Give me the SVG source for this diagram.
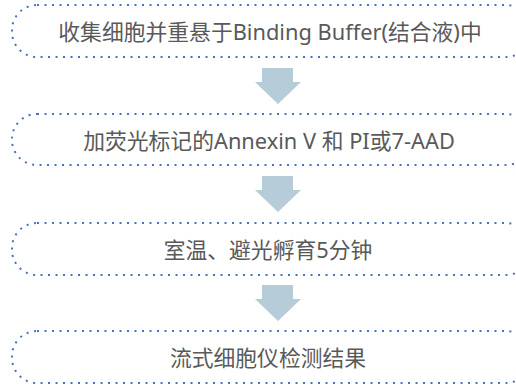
<svg xmlns="http://www.w3.org/2000/svg" width="516" height="385" viewBox="0 0 516 385">
  <style>
    .box { fill: #ffffff; stroke: #4472c4; stroke-width: 2; stroke-dasharray: 2 5.5; }
    .lbl { font-family: "Noto Sans", "Noto Sans CJK SC", sans-serif; font-size: 21.8px; fill: #595959; text-anchor: middle; dominant-baseline: central; }
    .arrow { fill: #b6ccd9; }
  </style>
  <rect width="516" height="385" fill="#ffffff"/>
  <g id="connectors">
    <path class="arrow" d="M262 68 H293 V82 H301 L278 104 L255 82 H262 Z"/>
    <path class="arrow" d="M262 176 H293 V190 H301 L278 212 L255 190 H262 Z"/>
    <path class="arrow" d="M262 285 H293 V299 H301 L278 321 L255 299 H262 Z"/>
  </g>
  <g id="node1">
    <rect class="box" x="12" y="5" width="519" height="52" rx="25" ry="25"/>
    <text class="lbl" x="270" y="31">收集细胞并重悬于Binding Buffer(结合液)中</text>
  </g>
  <g id="node2">
    <rect class="box" x="12" y="114" width="519" height="51" rx="25" ry="25"/>
    <text class="lbl" x="269" y="140">加荧光标记的Annexin V 和 PI或7-AAD</text>
  </g>
  <g id="node3">
    <rect class="box" x="12" y="223" width="519" height="52" rx="25" ry="25"/>
    <text class="lbl" x="268" y="249">室温、避光孵育5分钟</text>
  </g>
  <g id="node4">
    <rect class="box" x="12" y="331" width="519" height="52" rx="25" ry="25"/>
    <text class="lbl" x="268" y="357">流式细胞仪检测结果</text>
  </g>
</svg>
